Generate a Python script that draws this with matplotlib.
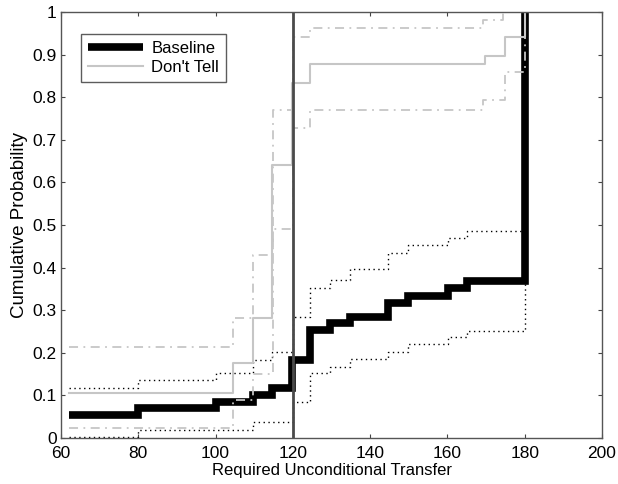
import numpy as np
import matplotlib
matplotlib.use("Agg")
import matplotlib.pyplot as plt

plt.rcParams['font.family'] = ['Liberation Sans', 'DejaVu Sans']

# Baseline CDF (step breakpoints, y holds after each x)
base_x = [62, 80, 100, 109.7, 114.6, 119.8, 124.4, 129.6, 134.8, 144.6, 149.8, 160.2, 165, 180]
base_y = [0.053, 0.070, 0.085, 0.101, 0.117, 0.183, 0.253, 0.271, 0.285, 0.318, 0.333, 0.352, 0.369, 1.0]

base_hi_x = [62, 80, 100, 109.7, 114.6, 120, 124.4, 129.6, 134.8, 144.6, 149.8, 160.2, 165, 180]
base_hi_y = [0.117, 0.136, 0.153, 0.183, 0.203, 0.285, 0.352, 0.371, 0.398, 0.434, 0.453, 0.469, 0.487, 1.0]

base_lo_x = [62, 80, 109.7, 120, 124.4, 129.6, 134.8, 144.6, 149.8, 160.2, 165, 180]
base_lo_y = [0.002, 0.019, 0.038, 0.085, 0.152, 0.167, 0.185, 0.203, 0.221, 0.238, 0.252, 1.0]

# Don't Tell CDF
dt_x = [62, 104.5, 109.7, 114.6, 119.7, 124.4, 169.7, 174.9, 180]
dt_y = [0.106, 0.175, 0.281, 0.641, 0.833, 0.877, 0.897, 0.941, 1.0]

dt_hi_x = [62, 104.5, 109.7, 114.8, 120, 124.4, 169.2, 174.4, 180]
dt_hi_y = [0.214, 0.281, 0.43, 0.77, 0.941, 0.962, 0.981, 1.0, 1.0]

dt_lo_x = [62, 104.5, 109.7, 114.8, 120, 124.4, 169.2, 174.9, 180]
dt_lo_y = [0.023, 0.09, 0.15, 0.49, 0.727, 0.77, 0.793, 0.86, 1.0]

threshold = 120

fig = plt.figure(figsize=(6.18, 4.84), dpi=100)
ax = fig.add_axes([0.0987, 0.095, 0.8755, 0.88])

ax.step(base_x, base_y, where='post', color='black', lw=5.5, label='Baseline',
        solid_joinstyle='miter', solid_capstyle='butt')
ax.step(base_hi_x, base_hi_y, where='post', color='black', lw=1.0, linestyle=(0, (1, 2.5)))
ax.step(base_lo_x, base_lo_y, where='post', color='black', lw=1.0, linestyle=(0, (1, 2.5)))

ax.step(dt_x, dt_y, where='post', color='#c6c6c6', lw=1.5, label="Don't Tell")
ax.step(dt_hi_x, dt_hi_y, where='post', color='#c6c6c6', lw=1.3, linestyle=(0, (5, 3, 1, 3)))
ax.step(dt_lo_x, dt_lo_y, where='post', color='#c6c6c6', lw=1.3, linestyle=(0, (5, 3, 1, 3)))

ax.axvline(threshold, color='#4a4a4a', lw=2.0)

ax.set_xlim(60, 200)
ax.set_ylim(0, 1)
ax.set_xticks(np.arange(60, 201, 20))
ax.set_yticks(np.arange(0, 1.01, 0.1))
ax.set_yticklabels(['0', '0.1', '0.2', '0.3', '0.4', '0.5', '0.6', '0.7', '0.8', '0.9', '1'])
ax.tick_params(direction='in', length=3, top=True, right=True, labelsize=12.5, color='#444444')
ax.tick_params(axis='x', pad=6)
ax.tick_params(axis='y', pad=3)
for s in ax.spines.values():
    s.set_color('#555555')
    s.set_linewidth(1.0)

ax.set_xlabel('Required Unconditional Transfer', fontsize=12, labelpad=1)
ax.set_ylabel('Cumulative Probability', fontsize=13.5, labelpad=3)

leg = ax.legend(loc='upper left', bbox_to_anchor=(0.022, 0.967), fontsize=12,
                frameon=True, fancybox=False, edgecolor='#333333', handlelength=3.3,
                borderpad=0.4, labelspacing=0.25, handletextpad=0.5)
leg.get_frame().set_linewidth(1.0)

fig.savefig('out.png', dpi=100)
